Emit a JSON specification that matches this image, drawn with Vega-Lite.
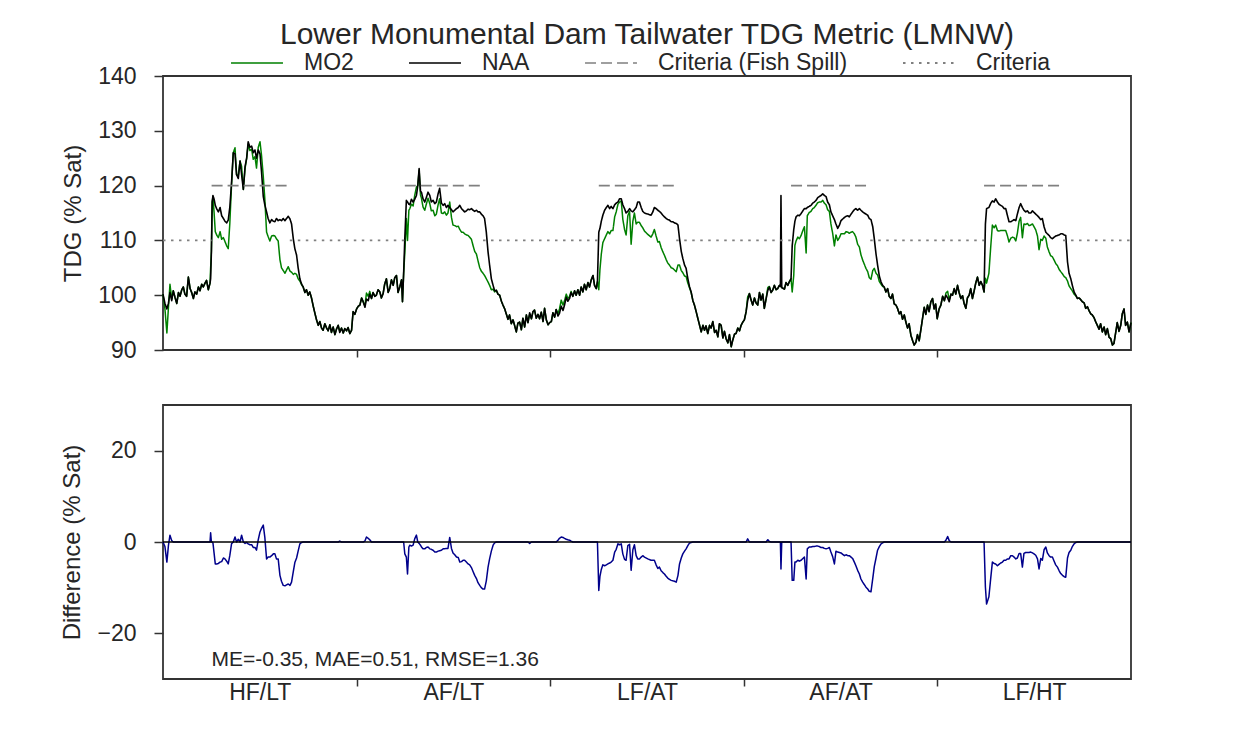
{
"$schema": "https://vega.github.io/schema/vega-lite/v6.json",
"padding": {"left": 60, "top": 19, "right": 5, "bottom": 5},
"config": {
 "font": "Liberation Sans",
 "view": {"stroke": "#333333", "strokeWidth": 1.8},
 "axis": {"domain": false, "grid": false, "labelFont": "Liberation Sans", "labelFontSize": 23, "labelColor": "#262626", "titleFont": "Liberation Sans", "titleFontSize": 24, "titleFontWeight": "normal", "titleColor": "#262626", "tickColor": "#333333", "tickWidth": 1.5},
 "line": {"strokeJoin": "round"}
},
"spacing": 41,
"datasets": {
"crit": [
{"t":0,"value":110,"series":"Criteria","seg":"c0"},{"t":0.251,"value":110,"series":"Criteria","seg":"c0"},
{"t":0.655,"value":110,"series":"Criteria","seg":"c1"},{"t":1.249,"value":110,"series":"Criteria","seg":"c1"},
{"t":1.653,"value":110,"series":"Criteria","seg":"c2"},{"t":2.251,"value":110,"series":"Criteria","seg":"c2"},
{"t":2.651,"value":110,"series":"Criteria","seg":"c3"},{"t":3.244,"value":110,"series":"Criteria","seg":"c3"},
{"t":3.653,"value":110,"series":"Criteria","seg":"c4"},{"t":4.241,"value":110,"series":"Criteria","seg":"c4"},
{"t":4.649,"value":110,"series":"Criteria","seg":"c5"},{"t":5,"value":110,"series":"Criteria","seg":"c5"},
{"t":0.251,"value":120,"series":"Criteria (Fish Spill)","seg":"f1"},{"t":0.655,"value":120,"series":"Criteria (Fish Spill)","seg":"f1"},
{"t":1.249,"value":120,"series":"Criteria (Fish Spill)","seg":"f2"},{"t":1.653,"value":120,"series":"Criteria (Fish Spill)","seg":"f2"},
{"t":2.251,"value":120,"series":"Criteria (Fish Spill)","seg":"f3"},{"t":2.651,"value":120,"series":"Criteria (Fish Spill)","seg":"f3"},
{"t":3.244,"value":120,"series":"Criteria (Fish Spill)","seg":"f4"},{"t":3.653,"value":120,"series":"Criteria (Fish Spill)","seg":"f4"},
{"t":4.241,"value":120,"series":"Criteria (Fish Spill)","seg":"f5"},{"t":4.649,"value":120,"series":"Criteria (Fish Spill)","seg":"f5"}
],
"stats": [{"label": "ME=-0.35, MAE=0.51, RMSE=1.36"}],
"zero": [{"level": 0}],
"ts": [
{"t":0.000,"NAA":100.2,"MO2":100.2,"diff":0},
{"t":0.010,"NAA":98.5,"MO2":97.5,"diff":-1.0},
{"t":0.020,"NAA":97.5,"MO2":93.1,"diff":-4.4},
{"t":0.028,"NAA":98.5,"MO2":97.7,"diff":-0.8},
{"t":0.036,"NAA":100.5,"MO2":102.0,"diff":1.5},
{"t":0.045,"NAA":99.0,"MO2":99.3,"diff":0.3},
{"t":0.053,"NAA":100.8,"MO2":100.8,"diff":0},
{"t":0.062,"NAA":99.6,"MO2":99.6,"diff":0},
{"t":0.071,"NAA":98.5,"MO2":98.5,"diff":0},
{"t":0.080,"NAA":100.5,"MO2":100.5,"diff":0},
{"t":0.088,"NAA":99.8,"MO2":99.8,"diff":0},
{"t":0.097,"NAA":101.0,"MO2":101.0,"diff":0},
{"t":0.105,"NAA":101.5,"MO2":101.5,"diff":0},
{"t":0.113,"NAA":100.2,"MO2":100.2,"diff":0},
{"t":0.122,"NAA":99.8,"MO2":99.8,"diff":0},
{"t":0.131,"NAA":103.3,"MO2":103.3,"diff":0},
{"t":0.140,"NAA":101.2,"MO2":101.2,"diff":0},
{"t":0.148,"NAA":100.5,"MO2":100.5,"diff":0},
{"t":0.157,"NAA":99.4,"MO2":99.4,"diff":0},
{"t":0.165,"NAA":100.6,"MO2":100.6,"diff":0},
{"t":0.174,"NAA":100.2,"MO2":100.2,"diff":0},
{"t":0.183,"NAA":101.5,"MO2":101.5,"diff":0},
{"t":0.191,"NAA":100.8,"MO2":100.8,"diff":0},
{"t":0.200,"NAA":102.0,"MO2":102.0,"diff":0},
{"t":0.208,"NAA":101.5,"MO2":101.5,"diff":0},
{"t":0.217,"NAA":102.2,"MO2":102.2,"diff":0},
{"t":0.225,"NAA":102.7,"MO2":102.7,"diff":0},
{"t":0.234,"NAA":101.0,"MO2":101.0,"diff":0},
{"t":0.243,"NAA":102.2,"MO2":102.2,"diff":0},
{"t":0.246,"NAA":103.0,"MO2":105.0,"diff":2.0},
{"t":0.250,"NAA":108.0,"MO2":108.0,"diff":0},
{"t":0.254,"NAA":117.0,"MO2":117.0,"diff":0},
{"t":0.258,"NAA":118.2,"MO2":118.0,"diff":-0.2},
{"t":0.264,"NAA":117.5,"MO2":115.0,"diff":-2.5},
{"t":0.270,"NAA":116.4,"MO2":111.6,"diff":-4.8},
{"t":0.277,"NAA":115.8,"MO2":111.0,"diff":-4.8},
{"t":0.286,"NAA":115.2,"MO2":110.5,"diff":-4.7},
{"t":0.295,"NAA":116.0,"MO2":111.6,"diff":-4.4},
{"t":0.303,"NAA":114.5,"MO2":110.2,"diff":-4.3},
{"t":0.312,"NAA":114.0,"MO2":110.5,"diff":-3.5},
{"t":0.320,"NAA":113.5,"MO2":109.8,"diff":-3.7},
{"t":0.329,"NAA":113.2,"MO2":109.0,"diff":-4.2},
{"t":0.337,"NAA":113.7,"MO2":108.5,"diff":-4.8},
{"t":0.345,"NAA":116.0,"MO2":113.0,"diff":-3.0},
{"t":0.354,"NAA":120.5,"MO2":120.1,"diff":-0.4},
{"t":0.363,"NAA":126.0,"MO2":126.0,"diff":0},
{"t":0.372,"NAA":125.8,"MO2":126.9,"diff":1.1},
{"t":0.380,"NAA":122.0,"MO2":122.0,"diff":0},
{"t":0.389,"NAA":121.3,"MO2":121.9,"diff":0.6},
{"t":0.398,"NAA":124.5,"MO2":124.5,"diff":0},
{"t":0.406,"NAA":122.0,"MO2":123.5,"diff":1.5},
{"t":0.415,"NAA":119.3,"MO2":119.3,"diff":0},
{"t":0.424,"NAA":123.5,"MO2":123.2,"diff":-0.3},
{"t":0.432,"NAA":125.0,"MO2":124.9,"diff":-0.1},
{"t":0.440,"NAA":128.0,"MO2":127.6,"diff":-0.4},
{"t":0.449,"NAA":127.0,"MO2":126.4,"diff":-0.6},
{"t":0.458,"NAA":127.2,"MO2":126.6,"diff":-0.6},
{"t":0.466,"NAA":126.0,"MO2":124.8,"diff":-1.2},
{"t":0.475,"NAA":126.5,"MO2":125.3,"diff":-1.2},
{"t":0.483,"NAA":125.0,"MO2":123.2,"diff":-1.8},
{"t":0.492,"NAA":126.5,"MO2":127.0,"diff":0.5},
{"t":0.501,"NAA":125.8,"MO2":128.0,"diff":2.2},
{"t":0.509,"NAA":122.5,"MO2":125.5,"diff":3.0},
{"t":0.518,"NAA":118.0,"MO2":121.7,"diff":3.7},
{"t":0.526,"NAA":116.5,"MO2":117.5,"diff":1.0},
{"t":0.535,"NAA":115.2,"MO2":111.5,"diff":-3.7},
{"t":0.543,"NAA":114.0,"MO2":110.7,"diff":-3.3},
{"t":0.552,"NAA":113.2,"MO2":109.9,"diff":-3.3},
{"t":0.561,"NAA":113.8,"MO2":110.8,"diff":-3.0},
{"t":0.570,"NAA":113.5,"MO2":110.9,"diff":-2.6},
{"t":0.578,"NAA":113.4,"MO2":110.8,"diff":-2.6},
{"t":0.586,"NAA":114.0,"MO2":110.3,"diff":-3.7},
{"t":0.595,"NAA":113.6,"MO2":109.9,"diff":-3.7},
{"t":0.604,"NAA":113.8,"MO2":106.5,"diff":-7.3},
{"t":0.612,"NAA":113.6,"MO2":105.0,"diff":-8.6},
{"t":0.621,"NAA":114.0,"MO2":104.5,"diff":-9.5},
{"t":0.630,"NAA":113.6,"MO2":104.0,"diff":-9.6},
{"t":0.638,"NAA":114.0,"MO2":104.6,"diff":-9.4},
{"t":0.647,"NAA":114.4,"MO2":105.2,"diff":-9.2},
{"t":0.656,"NAA":113.9,"MO2":104.4,"diff":-9.5},
{"t":0.664,"NAA":113.0,"MO2":104.2,"diff":-8.8},
{"t":0.673,"NAA":110.3,"MO2":103.8,"diff":-6.5},
{"t":0.681,"NAA":108.5,"MO2":104.0,"diff":-4.5},
{"t":0.690,"NAA":107.3,"MO2":103.8,"diff":-3.5},
{"t":0.698,"NAA":105.0,"MO2":103.0,"diff":-2.0},
{"t":0.707,"NAA":103.0,"MO2":102.6,"diff":-0.4},
{"t":0.716,"NAA":102.0,"MO2":101.9,"diff":-0.1},
{"t":0.724,"NAA":101.5,"MO2":101.5,"diff":0},
{"t":0.733,"NAA":100.5,"MO2":100.5,"diff":0},
{"t":0.741,"NAA":101.0,"MO2":101.0,"diff":0},
{"t":0.750,"NAA":100.0,"MO2":100.0,"diff":0},
{"t":0.758,"NAA":100.6,"MO2":100.6,"diff":0},
{"t":0.767,"NAA":99.5,"MO2":99.5,"diff":0},
{"t":0.776,"NAA":98.0,"MO2":98.0,"diff":0},
{"t":0.784,"NAA":96.8,"MO2":96.8,"diff":0},
{"t":0.793,"NAA":95.5,"MO2":95.5,"diff":0},
{"t":0.802,"NAA":94.5,"MO2":94.5,"diff":0},
{"t":0.810,"NAA":95.2,"MO2":95.2,"diff":0},
{"t":0.819,"NAA":94.0,"MO2":94.0,"diff":0},
{"t":0.827,"NAA":93.6,"MO2":93.6,"diff":0},
{"t":0.836,"NAA":94.8,"MO2":94.8,"diff":0},
{"t":0.845,"NAA":94.0,"MO2":94.0,"diff":0},
{"t":0.853,"NAA":93.5,"MO2":93.5,"diff":0},
{"t":0.862,"NAA":94.6,"MO2":94.6,"diff":0},
{"t":0.870,"NAA":93.2,"MO2":93.2,"diff":0},
{"t":0.879,"NAA":94.2,"MO2":94.2,"diff":0},
{"t":0.888,"NAA":92.8,"MO2":92.8,"diff":0},
{"t":0.896,"NAA":93.8,"MO2":93.8,"diff":0},
{"t":0.905,"NAA":94.5,"MO2":94.5,"diff":0},
{"t":0.913,"NAA":93.2,"MO2":93.4,"diff":0.2},
{"t":0.922,"NAA":94.0,"MO2":94.0,"diff":0},
{"t":0.931,"NAA":93.1,"MO2":93.1,"diff":0},
{"t":0.939,"NAA":93.9,"MO2":93.9,"diff":0},
{"t":0.948,"NAA":93.5,"MO2":93.5,"diff":0},
{"t":0.956,"NAA":94.1,"MO2":94.1,"diff":0},
{"t":0.965,"NAA":93.0,"MO2":93.0,"diff":0},
{"t":0.974,"NAA":93.6,"MO2":93.6,"diff":0},
{"t":0.982,"NAA":97.0,"MO2":97.0,"diff":0},
{"t":0.991,"NAA":96.5,"MO2":96.5,"diff":0},
{"t":1.000,"NAA":97.5,"MO2":97.5,"diff":0},
{"t":1.009,"NAA":98.0,"MO2":98.0,"diff":0},
{"t":1.017,"NAA":98.2,"MO2":98.2,"diff":0},
{"t":1.026,"NAA":99.5,"MO2":99.5,"diff":0},
{"t":1.034,"NAA":98.8,"MO2":98.8,"diff":0},
{"t":1.043,"NAA":97.8,"MO2":98.0,"diff":0.2},
{"t":1.051,"NAA":99.3,"MO2":100.4,"diff":1.1},
{"t":1.060,"NAA":99.0,"MO2":99.8,"diff":0.8},
{"t":1.068,"NAA":100.2,"MO2":100.7,"diff":0.5},
{"t":1.077,"NAA":99.4,"MO2":99.4,"diff":0},
{"t":1.085,"NAA":100.5,"MO2":100.5,"diff":0},
{"t":1.094,"NAA":99.8,"MO2":99.8,"diff":0},
{"t":1.102,"NAA":100.0,"MO2":100.0,"diff":0},
{"t":1.111,"NAA":101.0,"MO2":101.0,"diff":0},
{"t":1.120,"NAA":100.6,"MO2":100.6,"diff":0},
{"t":1.128,"NAA":99.5,"MO2":99.5,"diff":0},
{"t":1.137,"NAA":100.3,"MO2":100.3,"diff":0},
{"t":1.145,"NAA":102.0,"MO2":102.0,"diff":0},
{"t":1.154,"NAA":103.0,"MO2":103.0,"diff":0},
{"t":1.163,"NAA":100.5,"MO2":100.5,"diff":0},
{"t":1.171,"NAA":101.2,"MO2":101.2,"diff":0},
{"t":1.180,"NAA":102.8,"MO2":102.8,"diff":0},
{"t":1.189,"NAA":101.8,"MO2":101.8,"diff":0},
{"t":1.197,"NAA":103.2,"MO2":103.2,"diff":0},
{"t":1.206,"NAA":103.6,"MO2":103.6,"diff":0},
{"t":1.214,"NAA":100.5,"MO2":100.5,"diff":0},
{"t":1.223,"NAA":101.5,"MO2":101.5,"diff":0},
{"t":1.232,"NAA":102.8,"MO2":102.8,"diff":0},
{"t":1.237,"NAA":98.8,"MO2":98.8,"diff":0},
{"t":1.243,"NAA":104.0,"MO2":104.0,"diff":0},
{"t":1.249,"NAA":110.3,"MO2":107.7,"diff":-2.6},
{"t":1.257,"NAA":117.3,"MO2":114.0,"diff":-3.3},
{"t":1.263,"NAA":117.0,"MO2":110.0,"diff":-7.0},
{"t":1.270,"NAA":116.6,"MO2":115.5,"diff":-1.1},
{"t":1.275,"NAA":116.5,"MO2":115.8,"diff":-0.7},
{"t":1.283,"NAA":117.5,"MO2":116.6,"diff":-0.9},
{"t":1.292,"NAA":117.0,"MO2":116.3,"diff":-0.7},
{"t":1.300,"NAA":117.5,"MO2":118.2,"diff":0.7},
{"t":1.309,"NAA":118.2,"MO2":119.7,"diff":1.5},
{"t":1.316,"NAA":120.0,"MO2":120.0,"diff":0},
{"t":1.323,"NAA":123.1,"MO2":122.8,"diff":-0.3},
{"t":1.330,"NAA":119.0,"MO2":118.3,"diff":-0.7},
{"t":1.335,"NAA":118.8,"MO2":117.7,"diff":-1.1},
{"t":1.343,"NAA":117.6,"MO2":116.1,"diff":-1.5},
{"t":1.352,"NAA":117.0,"MO2":115.5,"diff":-1.5},
{"t":1.360,"NAA":117.8,"MO2":116.6,"diff":-1.2},
{"t":1.369,"NAA":118.8,"MO2":117.7,"diff":-1.1},
{"t":1.378,"NAA":118.2,"MO2":116.7,"diff":-1.5},
{"t":1.386,"NAA":117.0,"MO2":115.4,"diff":-1.6},
{"t":1.395,"NAA":117.3,"MO2":115.5,"diff":-1.8},
{"t":1.404,"NAA":116.7,"MO2":114.5,"diff":-2.2},
{"t":1.412,"NAA":117.0,"MO2":114.8,"diff":-2.2},
{"t":1.421,"NAA":118.5,"MO2":116.5,"diff":-2.0},
{"t":1.429,"NAA":119.5,"MO2":117.6,"diff":-1.9},
{"t":1.438,"NAA":116.8,"MO2":115.0,"diff":-1.8},
{"t":1.447,"NAA":116.4,"MO2":114.9,"diff":-1.5},
{"t":1.455,"NAA":116.7,"MO2":115.2,"diff":-1.5},
{"t":1.464,"NAA":116.0,"MO2":114.6,"diff":-1.4},
{"t":1.472,"NAA":116.4,"MO2":115.0,"diff":-1.4},
{"t":1.481,"NAA":116.0,"MO2":117.0,"diff":1.0},
{"t":1.490,"NAA":115.6,"MO2":114.2,"diff":-1.4},
{"t":1.498,"NAA":115.2,"MO2":112.8,"diff":-2.4},
{"t":1.507,"NAA":115.5,"MO2":112.7,"diff":-2.8},
{"t":1.516,"NAA":115.8,"MO2":112.5,"diff":-3.3},
{"t":1.525,"NAA":116.0,"MO2":112.6,"diff":-3.4},
{"t":1.533,"NAA":116.4,"MO2":112.0,"diff":-4.4},
{"t":1.542,"NAA":115.8,"MO2":111.5,"diff":-4.3},
{"t":1.550,"NAA":115.5,"MO2":111.5,"diff":-4.0},
{"t":1.558,"NAA":115.2,"MO2":111.2,"diff":-4.0},
{"t":1.567,"NAA":115.4,"MO2":111.0,"diff":-4.4},
{"t":1.576,"NAA":115.7,"MO2":110.9,"diff":-4.8},
{"t":1.584,"NAA":115.6,"MO2":110.6,"diff":-5.0},
{"t":1.593,"NAA":115.8,"MO2":110.2,"diff":-5.6},
{"t":1.602,"NAA":115.5,"MO2":109.0,"diff":-6.5},
{"t":1.610,"NAA":115.3,"MO2":108.0,"diff":-7.3},
{"t":1.619,"NAA":115.5,"MO2":107.5,"diff":-8.0},
{"t":1.627,"NAA":115.2,"MO2":106.3,"diff":-8.9},
{"t":1.636,"NAA":115.2,"MO2":105.0,"diff":-9.5},
{"t":1.644,"NAA":114.8,"MO2":104.4,"diff":-10.0},
{"t":1.653,"NAA":114.5,"MO2":104.0,"diff":-10.3},
{"t":1.661,"NAA":114.0,"MO2":103.6,"diff":-10.3},
{"t":1.670,"NAA":111.5,"MO2":103.0,"diff":-8.5},
{"t":1.679,"NAA":107.9,"MO2":102.4,"diff":-5.5},
{"t":1.687,"NAA":105.5,"MO2":101.8,"diff":-3.7},
{"t":1.696,"NAA":103.0,"MO2":101.0,"diff":-2.0},
{"t":1.705,"NAA":101.8,"MO2":101.1,"diff":-0.7},
{"t":1.713,"NAA":100.8,"MO2":100.6,"diff":-0.2},
{"t":1.722,"NAA":100.9,"MO2":100.9,"diff":0},
{"t":1.730,"NAA":100.2,"MO2":100.2,"diff":0},
{"t":1.739,"NAA":100.0,"MO2":100.0,"diff":0},
{"t":1.748,"NAA":98.9,"MO2":98.9,"diff":0},
{"t":1.756,"NAA":98.2,"MO2":98.2,"diff":0},
{"t":1.765,"NAA":97.5,"MO2":97.5,"diff":0},
{"t":1.773,"NAA":96.6,"MO2":96.6,"diff":0},
{"t":1.782,"NAA":95.6,"MO2":95.6,"diff":0},
{"t":1.790,"NAA":96.4,"MO2":96.4,"diff":0},
{"t":1.799,"NAA":94.8,"MO2":94.8,"diff":0},
{"t":1.808,"NAA":95.5,"MO2":95.5,"diff":0},
{"t":1.816,"NAA":94.5,"MO2":94.5,"diff":0},
{"t":1.825,"NAA":93.3,"MO2":93.3,"diff":0},
{"t":1.833,"NAA":94.9,"MO2":94.9,"diff":0},
{"t":1.842,"NAA":95.1,"MO2":95.1,"diff":0},
{"t":1.851,"NAA":93.7,"MO2":93.7,"diff":0},
{"t":1.859,"NAA":95.8,"MO2":95.8,"diff":0},
{"t":1.868,"NAA":94.2,"MO2":94.2,"diff":0},
{"t":1.877,"NAA":96.4,"MO2":96.4,"diff":0},
{"t":1.885,"NAA":95.0,"MO2":95.0,"diff":0},
{"t":1.894,"NAA":96.8,"MO2":96.5,"diff":-0.3},
{"t":1.903,"NAA":95.7,"MO2":95.7,"diff":0},
{"t":1.911,"NAA":97.0,"MO2":97.0,"diff":0},
{"t":1.919,"NAA":97.3,"MO2":97.3,"diff":0},
{"t":1.928,"NAA":95.8,"MO2":95.8,"diff":0},
{"t":1.937,"NAA":96.5,"MO2":96.5,"diff":0},
{"t":1.945,"NAA":95.7,"MO2":95.7,"diff":0},
{"t":1.954,"NAA":96.9,"MO2":96.9,"diff":0},
{"t":1.963,"NAA":95.2,"MO2":95.2,"diff":0},
{"t":1.971,"NAA":97.6,"MO2":97.6,"diff":0},
{"t":1.980,"NAA":95.5,"MO2":95.5,"diff":0},
{"t":1.989,"NAA":94.6,"MO2":94.6,"diff":0},
{"t":1.997,"NAA":95.0,"MO2":95.0,"diff":0},
{"t":2.006,"NAA":95.2,"MO2":95.2,"diff":0},
{"t":2.014,"NAA":96.8,"MO2":96.8,"diff":0},
{"t":2.023,"NAA":96.0,"MO2":96.0,"diff":0},
{"t":2.031,"NAA":97.4,"MO2":97.4,"diff":0},
{"t":2.040,"NAA":96.2,"MO2":96.6,"diff":0.4},
{"t":2.048,"NAA":96.7,"MO2":97.5,"diff":0.8},
{"t":2.057,"NAA":98.0,"MO2":99.1,"diff":1.1},
{"t":2.066,"NAA":97.2,"MO2":98.2,"diff":1.0},
{"t":2.074,"NAA":98.2,"MO2":99.0,"diff":0.8},
{"t":2.083,"NAA":99.6,"MO2":100.2,"diff":0.6},
{"t":2.091,"NAA":98.9,"MO2":99.4,"diff":0.5},
{"t":2.100,"NAA":99.4,"MO2":99.8,"diff":0.4},
{"t":2.108,"NAA":100.5,"MO2":100.7,"diff":0.2},
{"t":2.117,"NAA":99.8,"MO2":99.8,"diff":0},
{"t":2.126,"NAA":100.8,"MO2":100.8,"diff":0},
{"t":2.134,"NAA":100.0,"MO2":100.0,"diff":0},
{"t":2.143,"NAA":101.0,"MO2":101.0,"diff":0},
{"t":2.152,"NAA":100.0,"MO2":100.0,"diff":0},
{"t":2.160,"NAA":101.5,"MO2":101.5,"diff":0},
{"t":2.169,"NAA":100.6,"MO2":100.6,"diff":0},
{"t":2.177,"NAA":102.0,"MO2":102.0,"diff":0},
{"t":2.186,"NAA":101.0,"MO2":101.0,"diff":0},
{"t":2.195,"NAA":102.3,"MO2":102.3,"diff":0},
{"t":2.203,"NAA":101.5,"MO2":101.5,"diff":0},
{"t":2.212,"NAA":102.8,"MO2":102.8,"diff":0},
{"t":2.221,"NAA":103.6,"MO2":103.6,"diff":0},
{"t":2.229,"NAA":101.8,"MO2":101.8,"diff":0},
{"t":2.238,"NAA":101.2,"MO2":101.2,"diff":0},
{"t":2.244,"NAA":102.5,"MO2":102.5,"diff":0},
{"t":2.251,"NAA":111.5,"MO2":101.0,"diff":-10.6},
{"t":2.257,"NAA":112.2,"MO2":104.7,"diff":-7.5},
{"t":2.264,"NAA":113.5,"MO2":107.5,"diff":-6.0},
{"t":2.272,"NAA":114.6,"MO2":109.6,"diff":-5.0},
{"t":2.281,"NAA":115.5,"MO2":110.3,"diff":-5.2},
{"t":2.290,"NAA":116.0,"MO2":111.0,"diff":-5.0},
{"t":2.298,"NAA":116.4,"MO2":111.6,"diff":-4.8},
{"t":2.307,"NAA":115.8,"MO2":111.2,"diff":-4.6},
{"t":2.315,"NAA":116.2,"MO2":111.8,"diff":-4.4},
{"t":2.324,"NAA":115.8,"MO2":111.8,"diff":-4.0},
{"t":2.333,"NAA":116.5,"MO2":114.3,"diff":-2.2},
{"t":2.341,"NAA":116.8,"MO2":115.2,"diff":-1.6},
{"t":2.350,"NAA":117.0,"MO2":116.6,"diff":-0.4},
{"t":2.358,"NAA":117.6,"MO2":117.0,"diff":-0.6},
{"t":2.367,"NAA":117.6,"MO2":117.2,"diff":-0.4},
{"t":2.375,"NAA":116.5,"MO2":113.9,"diff":-2.6},
{"t":2.384,"NAA":115.8,"MO2":112.0,"diff":-3.8},
{"t":2.392,"NAA":115.0,"MO2":111.0,"diff":-4.0},
{"t":2.401,"NAA":115.3,"MO2":114.5,"diff":-0.8},
{"t":2.410,"NAA":115.8,"MO2":115.3,"diff":-0.5},
{"t":2.418,"NAA":115.4,"MO2":109.3,"diff":-6.2},
{"t":2.427,"NAA":115.2,"MO2":113.5,"diff":-1.7},
{"t":2.435,"NAA":115.6,"MO2":115.0,"diff":-0.6},
{"t":2.444,"NAA":116.0,"MO2":113.0,"diff":-3.0},
{"t":2.452,"NAA":117.0,"MO2":113.3,"diff":-3.7},
{"t":2.461,"NAA":117.0,"MO2":113.3,"diff":-3.7},
{"t":2.470,"NAA":116.0,"MO2":112.7,"diff":-3.3},
{"t":2.478,"NAA":115.3,"MO2":112.3,"diff":-3.0},
{"t":2.487,"NAA":115.0,"MO2":111.7,"diff":-3.3},
{"t":2.504,"NAA":114.8,"MO2":111.1,"diff":-3.7},
{"t":2.521,"NAA":114.6,"MO2":110.6,"diff":-4.0},
{"t":2.530,"NAA":115.2,"MO2":111.2,"diff":-4.0},
{"t":2.538,"NAA":116.0,"MO2":112.0,"diff":-4.0},
{"t":2.547,"NAA":115.8,"MO2":110.8,"diff":-5.0},
{"t":2.556,"NAA":115.5,"MO2":109.7,"diff":-5.8},
{"t":2.564,"NAA":115.3,"MO2":109.8,"diff":-5.5},
{"t":2.573,"NAA":115.0,"MO2":108.7,"diff":-6.3},
{"t":2.582,"NAA":114.6,"MO2":107.9,"diff":-6.7},
{"t":2.590,"NAA":114.3,"MO2":107.3,"diff":-7.0},
{"t":2.599,"NAA":114.0,"MO2":106.5,"diff":-7.5},
{"t":2.607,"NAA":113.8,"MO2":105.9,"diff":-7.9},
{"t":2.616,"NAA":113.7,"MO2":105.5,"diff":-8.2},
{"t":2.625,"NAA":113.4,"MO2":105.0,"diff":-8.4},
{"t":2.633,"NAA":113.4,"MO2":104.9,"diff":-8.5},
{"t":2.642,"NAA":113.2,"MO2":104.6,"diff":-8.6},
{"t":2.651,"NAA":113.1,"MO2":104.3,"diff":-8.8},
{"t":2.660,"NAA":112.8,"MO2":105.5,"diff":-7.3},
{"t":2.668,"NAA":110.3,"MO2":105.5,"diff":-4.8},
{"t":2.677,"NAA":108.0,"MO2":104.5,"diff":-3.5},
{"t":2.685,"NAA":106.7,"MO2":104.1,"diff":-2.6},
{"t":2.694,"NAA":105.5,"MO2":103.5,"diff":-2.0},
{"t":2.702,"NAA":104.9,"MO2":103.4,"diff":-1.5},
{"t":2.711,"NAA":103.0,"MO2":102.2,"diff":-0.8},
{"t":2.720,"NAA":101.5,"MO2":101.3,"diff":-0.2},
{"t":2.728,"NAA":100.6,"MO2":100.5,"diff":-0.1},
{"t":2.737,"NAA":99.0,"MO2":99.0,"diff":0},
{"t":2.745,"NAA":98.2,"MO2":98.2,"diff":0},
{"t":2.754,"NAA":97.0,"MO2":97.0,"diff":0},
{"t":2.763,"NAA":95.7,"MO2":95.7,"diff":0},
{"t":2.771,"NAA":94.6,"MO2":94.6,"diff":0},
{"t":2.780,"NAA":93.3,"MO2":93.3,"diff":0},
{"t":2.789,"NAA":94.5,"MO2":94.5,"diff":0},
{"t":2.797,"NAA":93.6,"MO2":93.6,"diff":0},
{"t":2.805,"NAA":94.4,"MO2":94.4,"diff":0},
{"t":2.814,"NAA":93.0,"MO2":93.0,"diff":0},
{"t":2.823,"NAA":94.5,"MO2":94.5,"diff":0},
{"t":2.831,"NAA":94.0,"MO2":94.0,"diff":0},
{"t":2.840,"NAA":95.2,"MO2":95.2,"diff":0},
{"t":2.849,"NAA":93.2,"MO2":93.2,"diff":0},
{"t":2.857,"NAA":93.6,"MO2":93.6,"diff":0},
{"t":2.866,"NAA":92.4,"MO2":92.4,"diff":0},
{"t":2.874,"NAA":94.8,"MO2":94.8,"diff":0},
{"t":2.883,"NAA":94.5,"MO2":94.5,"diff":0},
{"t":2.892,"NAA":92.2,"MO2":92.2,"diff":0},
{"t":2.900,"NAA":93.4,"MO2":93.4,"diff":0},
{"t":2.909,"NAA":92.0,"MO2":92.0,"diff":0},
{"t":2.918,"NAA":91.3,"MO2":91.3,"diff":0},
{"t":2.926,"NAA":92.8,"MO2":92.8,"diff":0},
{"t":2.935,"NAA":90.6,"MO2":90.6,"diff":0},
{"t":2.943,"NAA":91.8,"MO2":91.8,"diff":0},
{"t":2.952,"NAA":92.9,"MO2":92.9,"diff":0},
{"t":2.960,"NAA":93.0,"MO2":93.0,"diff":0},
{"t":2.969,"NAA":94.0,"MO2":94.0,"diff":0},
{"t":2.978,"NAA":93.5,"MO2":93.5,"diff":0},
{"t":2.986,"NAA":94.5,"MO2":94.5,"diff":0},
{"t":2.995,"NAA":95.1,"MO2":95.1,"diff":0},
{"t":3.003,"NAA":95.5,"MO2":95.5,"diff":0},
{"t":3.012,"NAA":97.0,"MO2":97.0,"diff":0},
{"t":3.020,"NAA":99.0,"MO2":99.7,"diff":0.7},
{"t":3.029,"NAA":100.3,"MO2":100.3,"diff":0},
{"t":3.037,"NAA":99.2,"MO2":99.2,"diff":0},
{"t":3.046,"NAA":98.2,"MO2":98.2,"diff":0},
{"t":3.055,"NAA":99.5,"MO2":99.5,"diff":0},
{"t":3.063,"NAA":98.6,"MO2":98.6,"diff":0},
{"t":3.072,"NAA":98.2,"MO2":98.2,"diff":0},
{"t":3.081,"NAA":100.5,"MO2":100.5,"diff":0},
{"t":3.089,"NAA":99.1,"MO2":99.1,"diff":0},
{"t":3.098,"NAA":100.2,"MO2":100.2,"diff":0},
{"t":3.106,"NAA":97.6,"MO2":97.6,"diff":0},
{"t":3.115,"NAA":99.3,"MO2":99.3,"diff":0},
{"t":3.124,"NAA":100.9,"MO2":101.4,"diff":0.5},
{"t":3.132,"NAA":101.5,"MO2":101.6,"diff":0.1},
{"t":3.141,"NAA":100.5,"MO2":100.5,"diff":0},
{"t":3.149,"NAA":100.9,"MO2":100.9,"diff":0},
{"t":3.158,"NAA":101.8,"MO2":101.8,"diff":0},
{"t":3.167,"NAA":101.0,"MO2":101.0,"diff":0},
{"t":3.175,"NAA":101.2,"MO2":101.2,"diff":0},
{"t":3.184,"NAA":101.8,"MO2":101.8,"diff":0},
{"t":3.189,"NAA":101.6,"MO2":101.6,"diff":0},
{"t":3.192,"NAA":118.2,"MO2":101.8,"diff":-5.9},
{"t":3.196,"NAA":101.4,"MO2":101.4,"diff":0},
{"t":3.210,"NAA":101.1,"MO2":101.1,"diff":0},
{"t":3.218,"NAA":102.3,"MO2":102.3,"diff":0},
{"t":3.227,"NAA":101.8,"MO2":101.8,"diff":0},
{"t":3.236,"NAA":102.5,"MO2":102.5,"diff":0},
{"t":3.244,"NAA":103.0,"MO2":103.0,"diff":0},
{"t":3.250,"NAA":109.0,"MO2":100.6,"diff":-8.4},
{"t":3.258,"NAA":112.0,"MO2":103.6,"diff":-8.4},
{"t":3.264,"NAA":113.5,"MO2":109.1,"diff":-4.4},
{"t":3.270,"NAA":114.3,"MO2":109.9,"diff":-4.4},
{"t":3.279,"NAA":114.6,"MO2":110.6,"diff":-4.0},
{"t":3.287,"NAA":114.5,"MO2":110.3,"diff":-4.2},
{"t":3.296,"NAA":114.9,"MO2":110.9,"diff":-4.0},
{"t":3.305,"NAA":115.4,"MO2":111.8,"diff":-3.6},
{"t":3.313,"NAA":115.8,"MO2":112.5,"diff":-3.3},
{"t":3.322,"NAA":115.8,"MO2":107.7,"diff":-8.1},
{"t":3.328,"NAA":116.0,"MO2":114.5,"diff":-1.5},
{"t":3.338,"NAA":116.2,"MO2":115.1,"diff":-1.1},
{"t":3.347,"NAA":116.4,"MO2":115.3,"diff":-1.1},
{"t":3.356,"NAA":116.8,"MO2":115.8,"diff":-1.0},
{"t":3.364,"NAA":117.0,"MO2":116.0,"diff":-1.0},
{"t":3.373,"NAA":117.3,"MO2":116.4,"diff":-0.9},
{"t":3.382,"NAA":117.8,"MO2":116.9,"diff":-0.9},
{"t":3.390,"NAA":118.0,"MO2":117.0,"diff":-1.0},
{"t":3.399,"NAA":118.2,"MO2":117.0,"diff":-1.2},
{"t":3.408,"NAA":118.5,"MO2":117.3,"diff":-1.2},
{"t":3.416,"NAA":118.2,"MO2":116.8,"diff":-1.4},
{"t":3.425,"NAA":118.0,"MO2":116.5,"diff":-1.5},
{"t":3.433,"NAA":117.0,"MO2":115.6,"diff":-1.4},
{"t":3.442,"NAA":116.5,"MO2":115.3,"diff":-1.2},
{"t":3.450,"NAA":115.2,"MO2":113.0,"diff":-2.2},
{"t":3.459,"NAA":114.5,"MO2":111.3,"diff":-3.2},
{"t":3.468,"NAA":113.8,"MO2":109.0,"diff":-4.8},
{"t":3.476,"NAA":113.0,"MO2":111.0,"diff":-2.0},
{"t":3.485,"NAA":112.2,"MO2":110.0,"diff":-2.2},
{"t":3.494,"NAA":112.8,"MO2":110.5,"diff":-2.3},
{"t":3.502,"NAA":113.6,"MO2":111.2,"diff":-2.4},
{"t":3.511,"NAA":113.9,"MO2":111.2,"diff":-2.7},
{"t":3.520,"NAA":114.2,"MO2":111.2,"diff":-3.0},
{"t":3.528,"NAA":114.4,"MO2":111.6,"diff":-2.8},
{"t":3.537,"NAA":114.5,"MO2":111.5,"diff":-3.0},
{"t":3.545,"NAA":114.3,"MO2":111.3,"diff":-3.0},
{"t":3.554,"NAA":114.8,"MO2":111.5,"diff":-3.3},
{"t":3.562,"NAA":115.2,"MO2":111.6,"diff":-3.6},
{"t":3.571,"NAA":115.6,"MO2":111.2,"diff":-4.4},
{"t":3.579,"NAA":115.8,"MO2":110.6,"diff":-5.2},
{"t":3.588,"NAA":115.5,"MO2":109.3,"diff":-6.2},
{"t":3.597,"NAA":115.8,"MO2":108.8,"diff":-7.0},
{"t":3.605,"NAA":115.5,"MO2":107.4,"diff":-8.1},
{"t":3.614,"NAA":115.2,"MO2":106.4,"diff":-8.8},
{"t":3.622,"NAA":115.0,"MO2":105.7,"diff":-9.3},
{"t":3.631,"NAA":114.8,"MO2":104.9,"diff":-9.9},
{"t":3.640,"NAA":114.6,"MO2":104.3,"diff":-10.3},
{"t":3.648,"NAA":114.0,"MO2":103.2,"diff":-10.8},
{"t":3.657,"NAA":113.8,"MO2":102.9,"diff":-10.9},
{"t":3.666,"NAA":112.5,"MO2":104.5,"diff":-8.0},
{"t":3.674,"NAA":110.3,"MO2":104.9,"diff":-5.4},
{"t":3.683,"NAA":107.5,"MO2":104.0,"diff":-3.5},
{"t":3.691,"NAA":105.5,"MO2":103.7,"diff":-1.8},
{"t":3.700,"NAA":103.5,"MO2":102.5,"diff":-1.0},
{"t":3.709,"NAA":102.4,"MO2":102.0,"diff":-0.4},
{"t":3.717,"NAA":101.8,"MO2":101.6,"diff":-0.2},
{"t":3.725,"NAA":101.5,"MO2":101.5,"diff":0},
{"t":3.734,"NAA":100.6,"MO2":100.6,"diff":0},
{"t":3.743,"NAA":101.2,"MO2":101.2,"diff":0},
{"t":3.751,"NAA":99.8,"MO2":99.8,"diff":0},
{"t":3.760,"NAA":99.4,"MO2":99.4,"diff":0},
{"t":3.768,"NAA":100.2,"MO2":100.2,"diff":0},
{"t":3.777,"NAA":98.4,"MO2":98.4,"diff":0},
{"t":3.786,"NAA":98.2,"MO2":98.2,"diff":0},
{"t":3.794,"NAA":97.6,"MO2":97.6,"diff":0},
{"t":3.803,"NAA":96.6,"MO2":96.6,"diff":0},
{"t":3.811,"NAA":97.0,"MO2":97.0,"diff":0},
{"t":3.820,"NAA":95.6,"MO2":95.6,"diff":0},
{"t":3.829,"NAA":96.4,"MO2":96.4,"diff":0},
{"t":3.837,"NAA":95.1,"MO2":95.1,"diff":0},
{"t":3.846,"NAA":94.0,"MO2":94.0,"diff":0},
{"t":3.854,"NAA":94.8,"MO2":94.8,"diff":0},
{"t":3.863,"NAA":92.7,"MO2":92.7,"diff":0},
{"t":3.871,"NAA":91.8,"MO2":91.8,"diff":0},
{"t":3.880,"NAA":90.9,"MO2":90.9,"diff":0},
{"t":3.889,"NAA":91.4,"MO2":91.4,"diff":0},
{"t":3.897,"NAA":92.8,"MO2":92.8,"diff":0},
{"t":3.906,"NAA":91.7,"MO2":91.7,"diff":0},
{"t":3.915,"NAA":93.8,"MO2":93.8,"diff":0},
{"t":3.923,"NAA":95.7,"MO2":95.7,"diff":0},
{"t":3.932,"NAA":97.8,"MO2":97.8,"diff":0},
{"t":3.940,"NAA":96.5,"MO2":96.5,"diff":0},
{"t":3.949,"NAA":98.2,"MO2":98.2,"diff":0},
{"t":3.957,"NAA":97.0,"MO2":97.0,"diff":0},
{"t":3.966,"NAA":98.8,"MO2":98.8,"diff":0},
{"t":3.975,"NAA":99.4,"MO2":99.4,"diff":0},
{"t":3.983,"NAA":97.5,"MO2":97.5,"diff":0},
{"t":3.991,"NAA":98.4,"MO2":98.4,"diff":0},
{"t":3.999,"NAA":95.7,"MO2":95.7,"diff":0},
{"t":4.009,"NAA":97.5,"MO2":97.5,"diff":0},
{"t":4.018,"NAA":98.2,"MO2":98.2,"diff":0},
{"t":4.027,"NAA":99.8,"MO2":99.8,"diff":0},
{"t":4.036,"NAA":99.0,"MO2":99.0,"diff":0},
{"t":4.044,"NAA":100.0,"MO2":100.4,"diff":0.4},
{"t":4.053,"NAA":99.5,"MO2":100.7,"diff":1.2},
{"t":4.061,"NAA":98.8,"MO2":99.1,"diff":0.3},
{"t":4.070,"NAA":100.2,"MO2":100.2,"diff":0},
{"t":4.078,"NAA":100.0,"MO2":100.0,"diff":0},
{"t":4.087,"NAA":101.2,"MO2":101.2,"diff":0},
{"t":4.095,"NAA":100.2,"MO2":100.2,"diff":0},
{"t":4.104,"NAA":101.8,"MO2":101.8,"diff":0},
{"t":4.112,"NAA":100.5,"MO2":100.5,"diff":0},
{"t":4.121,"NAA":99.4,"MO2":99.4,"diff":0},
{"t":4.130,"NAA":99.9,"MO2":99.9,"diff":0},
{"t":4.138,"NAA":98.5,"MO2":98.5,"diff":0},
{"t":4.147,"NAA":97.6,"MO2":97.6,"diff":0},
{"t":4.155,"NAA":99.5,"MO2":99.5,"diff":0},
{"t":4.164,"NAA":100.0,"MO2":100.0,"diff":0},
{"t":4.172,"NAA":101.2,"MO2":101.2,"diff":0},
{"t":4.181,"NAA":99.4,"MO2":99.4,"diff":0},
{"t":4.190,"NAA":100.8,"MO2":100.8,"diff":0},
{"t":4.198,"NAA":102.2,"MO2":102.2,"diff":0},
{"t":4.207,"NAA":103.3,"MO2":103.3,"diff":0},
{"t":4.216,"NAA":101.8,"MO2":101.8,"diff":0},
{"t":4.224,"NAA":102.5,"MO2":102.5,"diff":0},
{"t":4.233,"NAA":101.8,"MO2":101.8,"diff":0},
{"t":4.241,"NAA":100.6,"MO2":100.6,"diff":0},
{"t":4.248,"NAA":113.0,"MO2":103.1,"diff":-9.9},
{"t":4.254,"NAA":115.8,"MO2":102.2,"diff":-13.6},
{"t":4.266,"NAA":116.0,"MO2":104.0,"diff":-12.0},
{"t":4.276,"NAA":116.8,"MO2":109.1,"diff":-7.7},
{"t":4.284,"NAA":117.2,"MO2":112.8,"diff":-4.4},
{"t":4.293,"NAA":117.0,"MO2":112.3,"diff":-4.7},
{"t":4.301,"NAA":117.6,"MO2":112.8,"diff":-4.8},
{"t":4.310,"NAA":117.0,"MO2":111.8,"diff":-5.2},
{"t":4.318,"NAA":116.6,"MO2":111.7,"diff":-4.9},
{"t":4.327,"NAA":116.4,"MO2":111.8,"diff":-4.6},
{"t":4.336,"NAA":116.2,"MO2":111.8,"diff":-4.4},
{"t":4.344,"NAA":115.8,"MO2":111.8,"diff":-4.0},
{"t":4.353,"NAA":115.8,"MO2":111.8,"diff":-4.0},
{"t":4.362,"NAA":114.5,"MO2":110.8,"diff":-3.7},
{"t":4.370,"NAA":113.4,"MO2":109.7,"diff":-3.7},
{"t":4.379,"NAA":113.4,"MO2":110.4,"diff":-3.0},
{"t":4.388,"NAA":113.6,"MO2":110.6,"diff":-3.0},
{"t":4.396,"NAA":113.8,"MO2":110.5,"diff":-3.3},
{"t":4.405,"NAA":113.6,"MO2":109.9,"diff":-3.7},
{"t":4.413,"NAA":114.8,"MO2":111.3,"diff":-3.5},
{"t":4.422,"NAA":116.0,"MO2":113.5,"diff":-2.5},
{"t":4.430,"NAA":116.7,"MO2":114.2,"diff":-2.5},
{"t":4.439,"NAA":116.0,"MO2":110.5,"diff":-5.5},
{"t":4.447,"NAA":115.5,"MO2":113.0,"diff":-2.5},
{"t":4.456,"NAA":115.2,"MO2":112.9,"diff":-2.3},
{"t":4.465,"NAA":115.4,"MO2":113.1,"diff":-2.3},
{"t":4.473,"NAA":115.0,"MO2":112.7,"diff":-2.3},
{"t":4.482,"NAA":115.0,"MO2":112.8,"diff":-2.2},
{"t":4.491,"NAA":115.4,"MO2":113.0,"diff":-2.4},
{"t":4.499,"NAA":115.1,"MO2":112.5,"diff":-2.6},
{"t":4.508,"NAA":114.8,"MO2":111.9,"diff":-2.9},
{"t":4.517,"NAA":114.5,"MO2":110.8,"diff":-3.7},
{"t":4.525,"NAA":114.2,"MO2":108.3,"diff":-5.9},
{"t":4.534,"NAA":113.8,"MO2":110.2,"diff":-3.6},
{"t":4.542,"NAA":114.0,"MO2":110.0,"diff":-4.0},
{"t":4.551,"NAA":112.5,"MO2":110.8,"diff":-1.7},
{"t":4.560,"NAA":111.5,"MO2":110.4,"diff":-1.1},
{"t":4.568,"NAA":111.2,"MO2":108.8,"diff":-2.4},
{"t":4.577,"NAA":110.9,"MO2":107.9,"diff":-3.0},
{"t":4.585,"NAA":110.5,"MO2":107.2,"diff":-3.3},
{"t":4.594,"NAA":110.3,"MO2":107.0,"diff":-3.3},
{"t":4.603,"NAA":110.6,"MO2":106.4,"diff":-4.2},
{"t":4.611,"NAA":110.8,"MO2":105.8,"diff":-5.0},
{"t":4.620,"NAA":110.9,"MO2":105.4,"diff":-5.5},
{"t":4.629,"NAA":111.0,"MO2":104.7,"diff":-6.3},
{"t":4.637,"NAA":111.2,"MO2":104.3,"diff":-6.9},
{"t":4.646,"NAA":111.2,"MO2":103.9,"diff":-7.3},
{"t":4.655,"NAA":111.0,"MO2":103.4,"diff":-7.6},
{"t":4.663,"NAA":110.9,"MO2":103.2,"diff":-7.7},
{"t":4.672,"NAA":106.1,"MO2":102.6,"diff":-3.5},
{"t":4.680,"NAA":104.0,"MO2":101.7,"diff":-2.3},
{"t":4.689,"NAA":103.0,"MO2":101.2,"diff":-1.8},
{"t":4.697,"NAA":101.8,"MO2":100.8,"diff":-1.0},
{"t":4.706,"NAA":100.6,"MO2":100.2,"diff":-0.4},
{"t":4.715,"NAA":100.0,"MO2":99.9,"diff":-0.1},
{"t":4.723,"NAA":99.4,"MO2":99.4,"diff":0},
{"t":4.732,"NAA":99.5,"MO2":99.5,"diff":0},
{"t":4.740,"NAA":99.2,"MO2":99.2,"diff":0},
{"t":4.749,"NAA":98.8,"MO2":98.8,"diff":0},
{"t":4.758,"NAA":98.6,"MO2":98.6,"diff":0},
{"t":4.766,"NAA":97.6,"MO2":97.6,"diff":0},
{"t":4.775,"NAA":97.9,"MO2":97.9,"diff":0},
{"t":4.783,"NAA":97.2,"MO2":97.2,"diff":0},
{"t":4.792,"NAA":96.6,"MO2":96.6,"diff":0},
{"t":4.800,"NAA":96.4,"MO2":96.4,"diff":0},
{"t":4.809,"NAA":95.9,"MO2":95.9,"diff":0},
{"t":4.817,"NAA":95.2,"MO2":95.2,"diff":0},
{"t":4.826,"NAA":94.5,"MO2":94.5,"diff":0},
{"t":4.835,"NAA":93.8,"MO2":93.8,"diff":0},
{"t":4.843,"NAA":94.8,"MO2":94.8,"diff":0},
{"t":4.852,"NAA":93.3,"MO2":93.3,"diff":0},
{"t":4.861,"NAA":94.2,"MO2":94.2,"diff":0},
{"t":4.869,"NAA":92.8,"MO2":92.8,"diff":0},
{"t":4.878,"NAA":93.9,"MO2":93.9,"diff":0},
{"t":4.887,"NAA":92.3,"MO2":92.3,"diff":0},
{"t":4.895,"NAA":92.1,"MO2":92.1,"diff":0},
{"t":4.904,"NAA":90.9,"MO2":90.9,"diff":0},
{"t":4.912,"NAA":91.2,"MO2":91.2,"diff":0},
{"t":4.921,"NAA":93.2,"MO2":93.2,"diff":0},
{"t":4.929,"NAA":95.0,"MO2":95.0,"diff":0},
{"t":4.938,"NAA":93.4,"MO2":93.4,"diff":0},
{"t":4.947,"NAA":94.5,"MO2":94.5,"diff":0},
{"t":4.955,"NAA":96.6,"MO2":96.6,"diff":0},
{"t":4.964,"NAA":97.5,"MO2":97.5,"diff":0},
{"t":4.972,"NAA":94.5,"MO2":94.5,"diff":0},
{"t":4.981,"NAA":95.1,"MO2":95.1,"diff":0},
{"t":4.990,"NAA":93.3,"MO2":93.3,"diff":0},
{"t":5.000,"NAA":95.0,"MO2":95.0,"diff":0}
]
},
"vconcat": [
{
 "width": 968,
 "height": 274,
 "title": {"text": "Lower Monumental Dam Tailwater TDG Metric (LMNW)", "font": "Liberation Sans", "fontSize": 30, "fontWeight": "normal", "color": "#262626", "anchor": "middle", "frame": "group", "baseline": "alphabetic", "offset": -9},
 "encoding": {
  "x": {"field": "t", "type": "quantitative", "scale": {"domain": [0, 5], "nice": false, "zero": false}, "axis": {"values": [1, 2, 3, 4], "labels": false, "title": null, "tickSize": 7}},
  "y": {"field": "value", "type": "quantitative", "scale": {"domain": [90, 140], "nice": false, "zero": false}, "axis": {"values": [90, 100, 110, 120, 130, 140], "title": "TDG (% Sat)", "tickSize": 9, "labelPadding": 18, "titlePadding": 12}},
  "color": {"field": "series", "type": "nominal",
   "scale": {"domain": ["MO2", "NAA", "Criteria (Fish Spill)", "Criteria"], "range": ["#008000", "#000000", "#808080", "#808080"]},
   "legend": {"orient": "none", "legendX": 67, "legendY": -40, "direction": "horizontal", "title": null, "symbolType": "stroke", "symbolSize": 2700, "symbolStrokeWidth": 2, "labelFont": "Liberation Sans", "labelFontSize": 23, "labelColor": "#262626", "labelOffset": 20, "columnPadding": 54, "labelLimit": 400}},
  "strokeDash": {"field": "series", "type": "nominal",
   "scale": {"domain": ["MO2", "NAA", "Criteria (Fish Spill)", "Criteria"], "range": [[1, 0], [1, 0], [11, 5], [2.5, 5.5]]}},
  "strokeWidth": {"field": "series", "type": "nominal",
   "scale": {"domain": ["MO2", "NAA", "Criteria (Fish Spill)", "Criteria"], "range": [1.5, 1.8, 3.5, 2.5]}}
 },
 "layer": [
  {"data": {"name": "ts"}, "transform": [{"fold": ["MO2"], "as": ["series", "value"]}], "mark": {"type": "line"}},
  {"data": {"name": "ts"}, "transform": [{"fold": ["NAA"], "as": ["series", "value"]}], "mark": {"type": "line"}},
  {"data": {"name": "crit"}, "mark": {"type": "line", "strokeCap": "butt"}, "encoding": {"detail": {"field": "seg", "type": "nominal"}}}
 ]
},
{
 "width": 968,
 "height": 274,
 "layer": [
  {"data": {"name": "ts"}, "mark": {"type": "line", "color": "#00008b", "strokeWidth": 1.5},
   "encoding": {
    "x": {"field": "t", "type": "quantitative", "scale": {"domain": [0, 5], "nice": false, "zero": false},
     "axis": {"values": [0.5, 1, 1.5, 2, 2.5, 3, 3.5, 4, 4.5], "title": null, "tickSize": 7,
      "tickOpacity": {"condition": {"test": "datum.value % 1 === 0", "value": 1}, "value": 0},
      "labelExpr": "datum.value === 0.5 ? 'HF/LT' : datum.value === 1.5 ? 'AF/LT' : datum.value === 2.5 ? 'LF/AT' : datum.value === 3.5 ? 'AF/AT' : datum.value === 4.5 ? 'LF/HT' : ''",
      "labelPadding": -5, "labelOverlap": false, "labelBound": false, "labelFlush": false}},
    "y": {"field": "diff", "type": "quantitative", "scale": {"domain": [-30, 30], "nice": false, "zero": false}, "axis": {"values": [-20, 0, 20], "title": "Difference (% Sat)", "tickSize": 9, "labelPadding": 18, "titlePadding": 12}}
   }},
  {"data": {"name": "zero"}, "mark": {"type": "rule", "color": "#000000", "strokeWidth": 1.3},
   "encoding": {"y": {"field": "level", "type": "quantitative"}}},
  {"data": {"name": "stats"}, "mark": {"type": "text", "font": "Liberation Sans", "fontSize": 21, "color": "#262626", "align": "left", "baseline": "alphabetic"},
   "encoding": {"x": {"datum": 0.25, "type": "quantitative"}, "y": {"datum": -27.1, "type": "quantitative"}, "text": {"field": "label", "type": "nominal"}}}
 ]
}
]
}
